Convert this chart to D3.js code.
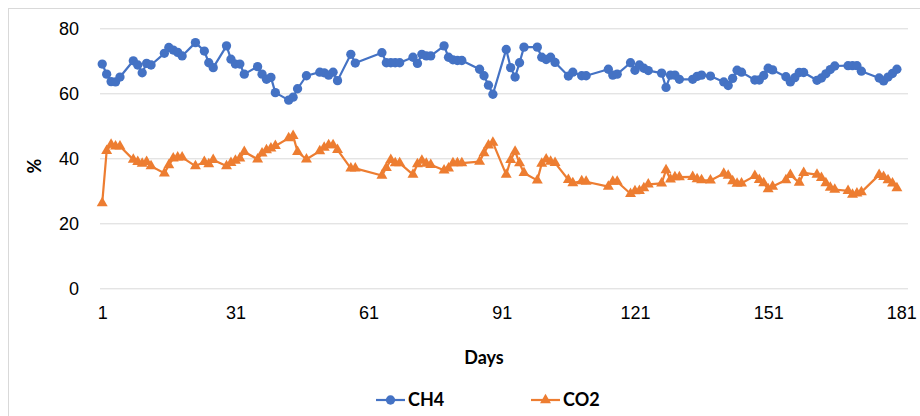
<!DOCTYPE html>
<html>
<head>
<meta charset="utf-8">
<script src="https://cdn.jsdelivr.net/npm/d3@7"></script>
<style>
  body { margin: 0; background: #fff; }
  svg { font-family: Lato, "Open Sans", sans-serif; }
  .grid line { stroke: #d9d9d9; stroke-width: 1; }
  .tick text { fill: #000; font-size: 18px; }
</style>
</head>
<body>
<svg id="chart" width="920" height="416"></svg>
<script>
// CH4 readings (day, %)
var ch4Days = [1,2,3,4,5,8,9,10,11,12,15,16,17,18,19,22,24,25,26,29,30,31,32,33,36,37,38,39,40,43,44,45,47,
  50,51,52,53,54,57,58,64,65,66,67,68,71,72,73,74,75,78,79,80,81,82,86,87,88,89,92,93,94,95,96,99,100,101,102,103,
  106,107,109,110,115,116,117,120,121,122,123,124,127,128,129,130,131,134,135,136,138,141,142,143,144,145,
  148,149,150,151,152,155,156,157,158,159,162,163,164,165,166,169,170,171,172,176,177,178,179,180];
var ch4Values = [69.0,65.9,63.6,63.5,65.0,70.0,68.7,66.3,69.2,68.7,72.3,74.1,73.3,72.6,71.5,75.6,73.0,69.4,67.9,74.6,70.5,69.0,69.0,65.9,68.2,65.9,64.3,64.9,60.2,57.9,58.8,61.4,65.4,
  66.5,66.3,65.6,66.5,63.9,72.0,69.3,72.5,69.4,69.4,69.4,69.4,71.1,69.2,72.0,71.5,71.5,74.6,71.1,70.3,70.1,70.1,67.4,65.4,62.5,59.7,73.5,67.9,65.0,69.4,74.2,74.2,71.1,70.4,71.1,69.5,
  65.3,66.5,65.4,65.4,67.4,65.6,65.9,69.4,67.1,68.7,67.7,67.0,66.2,61.8,65.6,65.6,64.3,64.3,65.2,65.6,65.3,63.5,62.4,64.6,67.1,66.5,
  64.1,64.1,65.5,67.7,67.2,65.1,63.5,64.8,66.4,66.4,64.0,64.7,66.0,67.3,68.4,68.5,68.5,68.5,66.8,64.7,63.8,65.0,66.1,67.4];

// CO2 readings (day, %)
var co2Days = [1,2,3,4,5,8,9,10,11,12,15,16,17,18,19,22,24,25,26,29,30,31,32,33,36,37,38,39,40,43,44,45,47,
  50,51,52,53,54,57,58,64,65,66,67,68,71,72,73,74,75,78,79,80,81,82,86,87,88,89,92,93,94,95,96,99,100,101,102,103,
  106,107,109,110,115,116,117,120,121,122,123,124,127,128,129,130,131,134,135,136,138,141,142,143,144,145,
  148,149,150,151,152,155,156,158,159,162,163,164,165,166,169,170,171,172,176,177,178,179,180];
var co2Values = [26.2,42.3,44.2,43.7,43.7,39.6,38.9,38.4,38.9,37.6,35.4,37.9,40.0,40.3,40.3,37.6,38.9,38.2,39.5,37.6,38.6,39.3,40.0,42.0,39.7,41.5,42.5,43.1,43.8,46.2,46.9,42.0,39.7,
  42.2,43.3,44.1,44.1,42.6,36.9,36.9,34.7,37.1,39.5,38.5,38.5,35.0,38.2,39.3,38.4,38.0,36.3,36.9,38.5,38.5,38.5,39.0,41.6,44.0,44.8,35.0,39.5,42.1,38.5,35.5,33.2,38.4,39.7,39.0,38.6,
  33.4,32.4,33.0,32.8,31.3,32.8,32.8,29.1,29.9,30.0,30.8,32.0,32.3,36.4,33.5,34.2,34.2,34.3,33.6,33.3,33.2,35.3,34.7,33.0,32.2,32.3,
  34.6,33.4,32.4,30.5,31.3,33.3,34.9,32.5,35.5,35.0,34.0,32.4,31.0,30.4,30.0,28.8,29.2,29.6,34.9,34.3,33.3,32.3,30.8];

var dayTicks = [1,31,61,91,121,151,181];
var pctTicks = [0,20,40,60,80];
var seriesNames = ["CH4", "CO2"];
var colors = ["#4472c4", "#ed7d31"];

var svg = d3.select("#chart");
var plotLeft = 100, plotRight = 908, plotTop = 28.3, plotBottom = 288.3;

// chart frame
svg.append("rect")
  .attr("x", 8.5).attr("y", 8.5)
  .attr("width", 1000).attr("height", 1000)
  .attr("fill", "none").attr("stroke", "#d9d9d9");

var x = d3.scaleLinear().domain([0.5, 182.5]).range([plotLeft, plotRight]);
var y = d3.scaleLinear().domain([0, 80]).range([plotBottom, plotTop]);

// y gridlines + labels
var yAxis = d3.axisLeft(y).tickValues(pctTicks).tickSize(-(plotRight - plotLeft)).tickPadding(21);
svg.append("g").attr("class", "grid")
  .attr("transform", "translate(" + plotLeft + ",0)")
  .call(yAxis)
  .call(function(g){ g.select(".domain").remove(); });

// x labels
var xAxis = d3.axisBottom(x).tickValues(dayTicks).tickSize(0).tickPadding(18);
svg.append("g").attr("class", "grid")
  .attr("transform", "translate(0," + plotBottom + ")")
  .call(xAxis)
  .call(function(g){ g.select(".domain").remove(); });

// axis titles
svg.append("text")
  .attr("x", 484).attr("y", 364)
  .attr("text-anchor", "middle")
  .attr("font-size", 18).attr("font-weight", "bold")
  .text("Days");
svg.append("text")
  .attr("transform", "translate(41,166) rotate(-90)")
  .attr("text-anchor", "middle")
  .attr("font-size", 18).attr("font-weight", "bold")
  .text("%");

var line = d3.line()
  .x(function(d){ return x(d[0]); })
  .y(function(d){ return y(d[1]); });

var ch4Data = d3.zip(ch4Days, ch4Values);
var co2Data = d3.zip(co2Days, co2Values);

var circle = d3.symbol().type(d3.symbolCircle).size(68);
var tri = d3.symbol().type(d3.symbolTriangle).size(52);

function drawSeries(data, color, sym) {
  var g = svg.append("g");
  g.append("path")
    .datum(data)
    .attr("d", line)
    .attr("fill", "none")
    .attr("stroke", color)
    .attr("stroke-width", 2.2)
    .attr("stroke-linejoin", "round");
  g.selectAll("path.pt")
    .data(data)
    .enter()
    .append("path")
    .attr("class", "pt")
    .attr("d", sym)
    .attr("transform", function(d){ return "translate(" + x(d[0]) + "," + y(d[1]) + ")"; })
    .attr("fill", color);
}

drawSeries(co2Data, colors[1], tri);
drawSeries(ch4Data, colors[0], circle);

// legend
var legendX = [376, 531];
var syms = [circle, tri];
seriesNames.forEach(function(name, i){
  var lg = svg.append("g").attr("transform", "translate(" + legendX[i] + ",400)");
  lg.append("line")
    .attr("x1", 0).attr("x2", 29).attr("y1", 0).attr("y2", 0)
    .attr("stroke", colors[i]).attr("stroke-width", 2.2);
  lg.append("path")
    .attr("d", syms[i])
    .attr("transform", "translate(14.5,0)")
    .attr("fill", colors[i]);
  lg.append("text")
    .attr("x", 32).attr("y", 0).attr("dy", "0.35em")
    .attr("font-size", 18).attr("font-weight", "bold")
    .text(name);
});
</script>
</body>
</html>
